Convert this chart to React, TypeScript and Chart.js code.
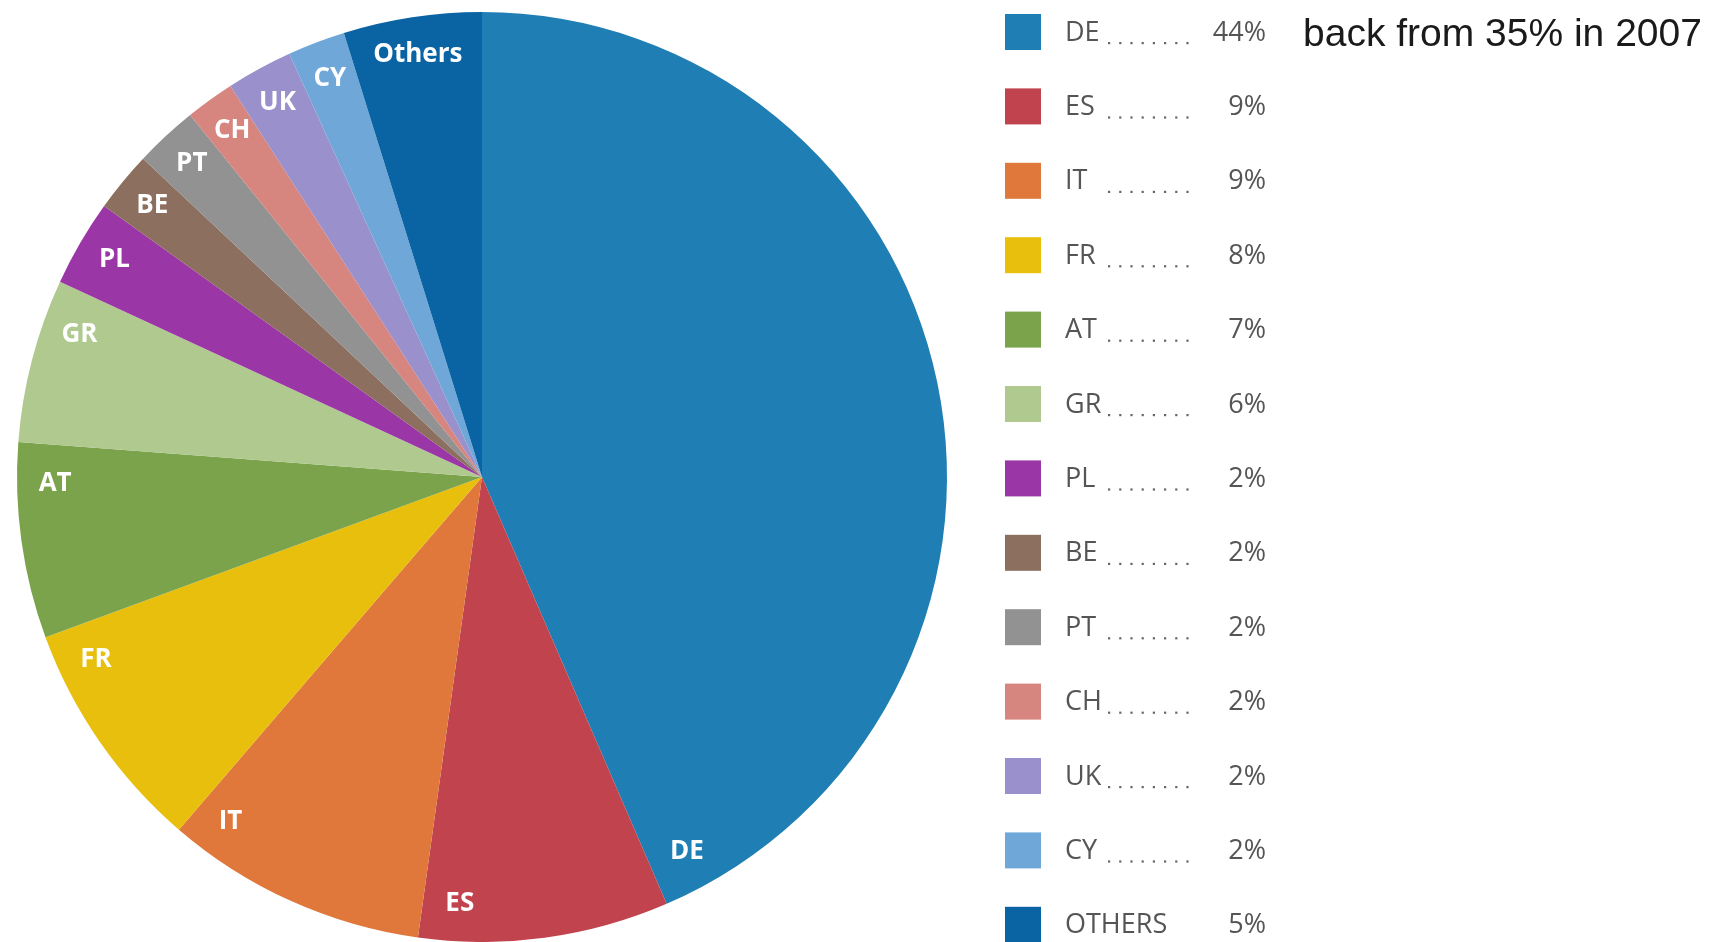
import React, { useEffect, useRef } from "react";
import { Chart, registerables } from "chart.js";

Chart.register(...registerables);

// ---- data ----
const countries = ["DE", "ES", "IT", "FR", "AT", "GR", "PL", "BE", "PT", "CH", "UK", "CY", "Others"];
const shares = [43.5, 8.7, 9.1, 8.1, 6.8, 5.7, 3.0, 2.1, 2.2, 1.7, 2.3, 2.0, 4.8];
const legendLabels = ["DE", "ES", "IT", "FR", "AT", "GR", "PL", "BE", "PT", "CH", "UK", "CY", "OTHERS"];
const legendPercents = ["44%", "9%", "9%", "8%", "7%", "6%", "2%", "2%", "2%", "2%", "2%", "2%", "5%"];
const noteText = "back from 35% in 2007";

// ---- styles ----
const colors = [
  "#1f7fb4", "#c0434d", "#e0773b", "#e8bf0c", "#7ba34b", "#afc98f", "#9b36a6",
  "#8c6f5e", "#929292", "#d6857f", "#9a90cb", "#70a7d9", "#0a64a3",
];

const sliceLabelPlugin = {
  id: "sliceLabels",
  afterDatasetsDraw(chart: any) {
    const meta = chart.getDatasetMeta(0);
    const ctx = chart.ctx;
    ctx.save();
    ctx.fillStyle = "#ffffff";
    ctx.font = "bold 26px 'Open Sans'";
    ctx.textAlign = "center";
    ctx.textBaseline = "middle";
    const gap = (3 * Math.PI) / 180;
    meta.data.forEach((arc: any, i: number) => {
      const p = arc.getProps(["x", "y", "startAngle", "endAngle", "outerRadius"], true);
      const r = p.outerRadius * 0.918;
      const half = ctx.measureText(countries[i]).width / 2;
      const span = p.endAngle - p.startAngle;
      const a = p.endAngle - Math.min(half / r + gap, span / 2);
      ctx.fillText(countries[i], p.x + Math.cos(a) * r, p.y + Math.sin(a) * r);
    });
    ctx.restore();
  },
};

const legendPlugin = {
  id: "sideLegend",
  afterDraw(chart: any) {
    const ctx = chart.ctx;
    ctx.save();
    const x0 = 1005;
    const y0 = 32;
    const step = 74.4;
    const sw = 36;
    legendLabels.forEach((lab, i) => {
      const cy = y0 + i * step;
      ctx.fillStyle = colors[i];
      ctx.fillRect(x0, cy - sw / 2, sw, sw);
      ctx.fillStyle = "#555555";
      ctx.font = "27px 'Open Sans'";
      ctx.textBaseline = "middle";
      ctx.textAlign = "left";
      ctx.fillText(lab, 1065, cy + 1);
      if (i < legendLabels.length - 1) {
        ctx.fillStyle = "#666666";
        for (let d = 0; d < 8; d++) {
          ctx.fillRect(1108 + d * 11.2, cy + 10, 2.2, 2.2);
        }
      }
      ctx.fillStyle = "#555555";
      ctx.textAlign = "right";
      ctx.fillText(legendPercents[i], 1266, cy + 1);
    });
    ctx.fillStyle = "#1a1a1a";
    ctx.font = "39px 'Liberation Sans'";
    ctx.textAlign = "left";
    ctx.textBaseline = "alphabetic";
    ctx.fillText(noteText, 1303, 46);
    ctx.restore();
  },
};

export default function App() {
  const ref = useRef<HTMLCanvasElement>(null);
  useEffect(() => {
    if (!ref.current) return;
    const chart = new Chart(ref.current, {
      type: "pie",
      data: {
        labels: countries,
        datasets: [
          {
            data: shares,
            backgroundColor: colors,
            borderWidth: 0,
          },
        ],
      },
      options: {
        animation: false,
        responsive: false,
        devicePixelRatio: 1,
        events: [],
        layout: { padding: { left: 17, top: 12, right: 766, bottom: 0 } },
        plugins: {
          legend: { display: false },
          tooltip: { enabled: false },
        },
      },
      plugins: [sliceLabelPlugin, legendPlugin],
    } as any);
    return () => chart.destroy();
  }, []);
  return (
    <div style={{ position: "fixed", left: 0, top: 0, width: 1713, height: 942, background: "#fff" }}>
      <canvas ref={ref} width={1713} height={942} style={{ display: "block" }} />
    </div>
  );
}
